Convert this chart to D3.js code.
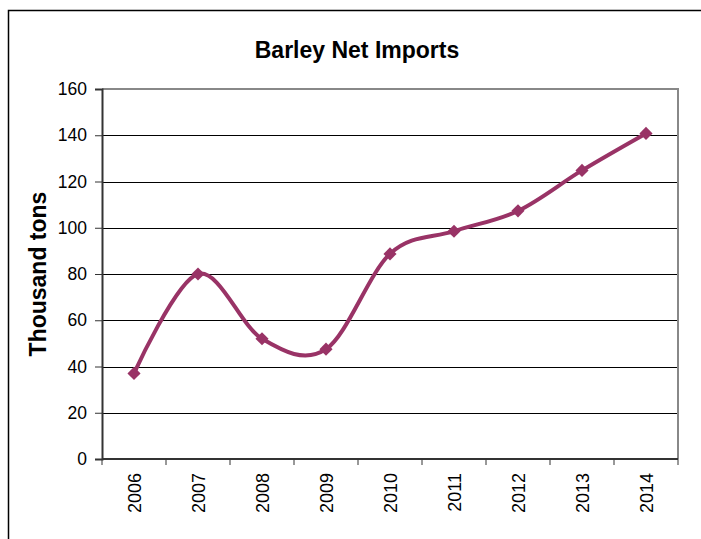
<!DOCTYPE html>
<html><head><meta charset="utf-8">
<script src="https://cdn.jsdelivr.net/npm/d3@7"></script>
<style>body{margin:0;background:#fff;}svg{display:block;font-family:Arial,"Liberation Sans",sans-serif;}</style>
</head><body><svg id="c" width="701" height="539"></svg>
<script>
const years = ["2006","2007","2008","2009","2010","2011","2012","2013","2014"];
const imports = [37, 80, 52, 47.5, 88.7, 98.5, 107.3, 124.8, 140.8];
const yTicks = [0,20,40,60,80,100,120,140,160];
const titleText = "Barley Net Imports";
const yLabel = "Thousand tons";

const svg = d3.select("#c");
const L = 102, R = 678, T = 89, B = 459;
const color = "#993366";

svg.append("rect").attr("x",8.5).attr("y",10.5).attr("width",720).attr("height",560)
  .attr("fill","none").attr("stroke","#000").attr("stroke-width",1.5);

const x = d3.scaleBand().domain(years).range([L,R]).padding(0);
const y = d3.scaleLinear().domain([0,160]).range([B,T]);

// gridlines
svg.append("g").selectAll("line").data(yTicks.filter(v=>v>0 && v<160)).join("line")
  .attr("x1",L).attr("x2",R).attr("y1",d=>Math.round(y(d))+0.5).attr("y2",d=>Math.round(y(d))+0.5)
  .attr("stroke","#000").attr("stroke-width",1);

// plot border top/right
svg.append("path").attr("d",`M${L},${T} H${R} V${B}`).attr("fill","none")
  .attr("stroke","#888").attr("stroke-width",2);

// y axis
const ya = svg.append("g").attr("transform",`translate(${L},0)`)
  .call(d3.axisLeft(y).tickValues(yTicks).tickSize(7).tickPadding(8));
ya.select(".domain").attr("stroke","#333").attr("stroke-width",2);
ya.selectAll(".tick line").attr("stroke","#333");
ya.selectAll("text").attr("font-size","17.5px").attr("fill","#000").attr("font-family","Arial, 'Liberation Sans', sans-serif");

// x axis (ticks between categories)
const xa = svg.append("g").attr("transform",`translate(0,${B})`);
xa.append("line").attr("x1",L).attr("x2",R).attr("y1",0).attr("y2",0).attr("stroke","#333").attr("stroke-width",2);
const bounds = years.map(d=>x(d)).concat([R]);
xa.selectAll("line.t").data(bounds).join("line").attr("class","t")
  .attr("x1",d=>d).attr("x2",d=>d).attr("y1",0).attr("y2",6).attr("stroke","#333");
xa.selectAll("text").data(years).join("text")
  .attr("transform",d=>`translate(${x(d)+x.bandwidth()/2+6.5},14) rotate(-90)`)
  .attr("text-anchor","end").attr("font-size","18px").text(d=>d);

// line
const line = d3.line().x((d,i)=>x(years[i])+x.bandwidth()/2).y(d=>y(d)).curve(d3.curveCardinal.tension(0));
svg.append("path").datum(imports).attr("d",line).attr("fill","none")
  .attr("stroke",color).attr("stroke-width",4);

svg.append("g").selectAll("path").data(imports).join("path")
  .attr("d",d3.symbol().type(d3.symbolDiamond2).size(110))
  .attr("transform",(d,i)=>`translate(${x(years[i])+x.bandwidth()/2},${y(d)})`)
  .attr("fill",color);

svg.append("text").attr("x",357).attr("y",58).attr("text-anchor","middle")
  .attr("font-size","23px").attr("font-weight","bold").text(titleText);

svg.append("text").attr("transform",`translate(46,${(T+B)/2}) rotate(-90)`)
  .attr("text-anchor","middle").attr("font-size","23px").attr("font-weight","bold").text(yLabel);
</script></body></html>
